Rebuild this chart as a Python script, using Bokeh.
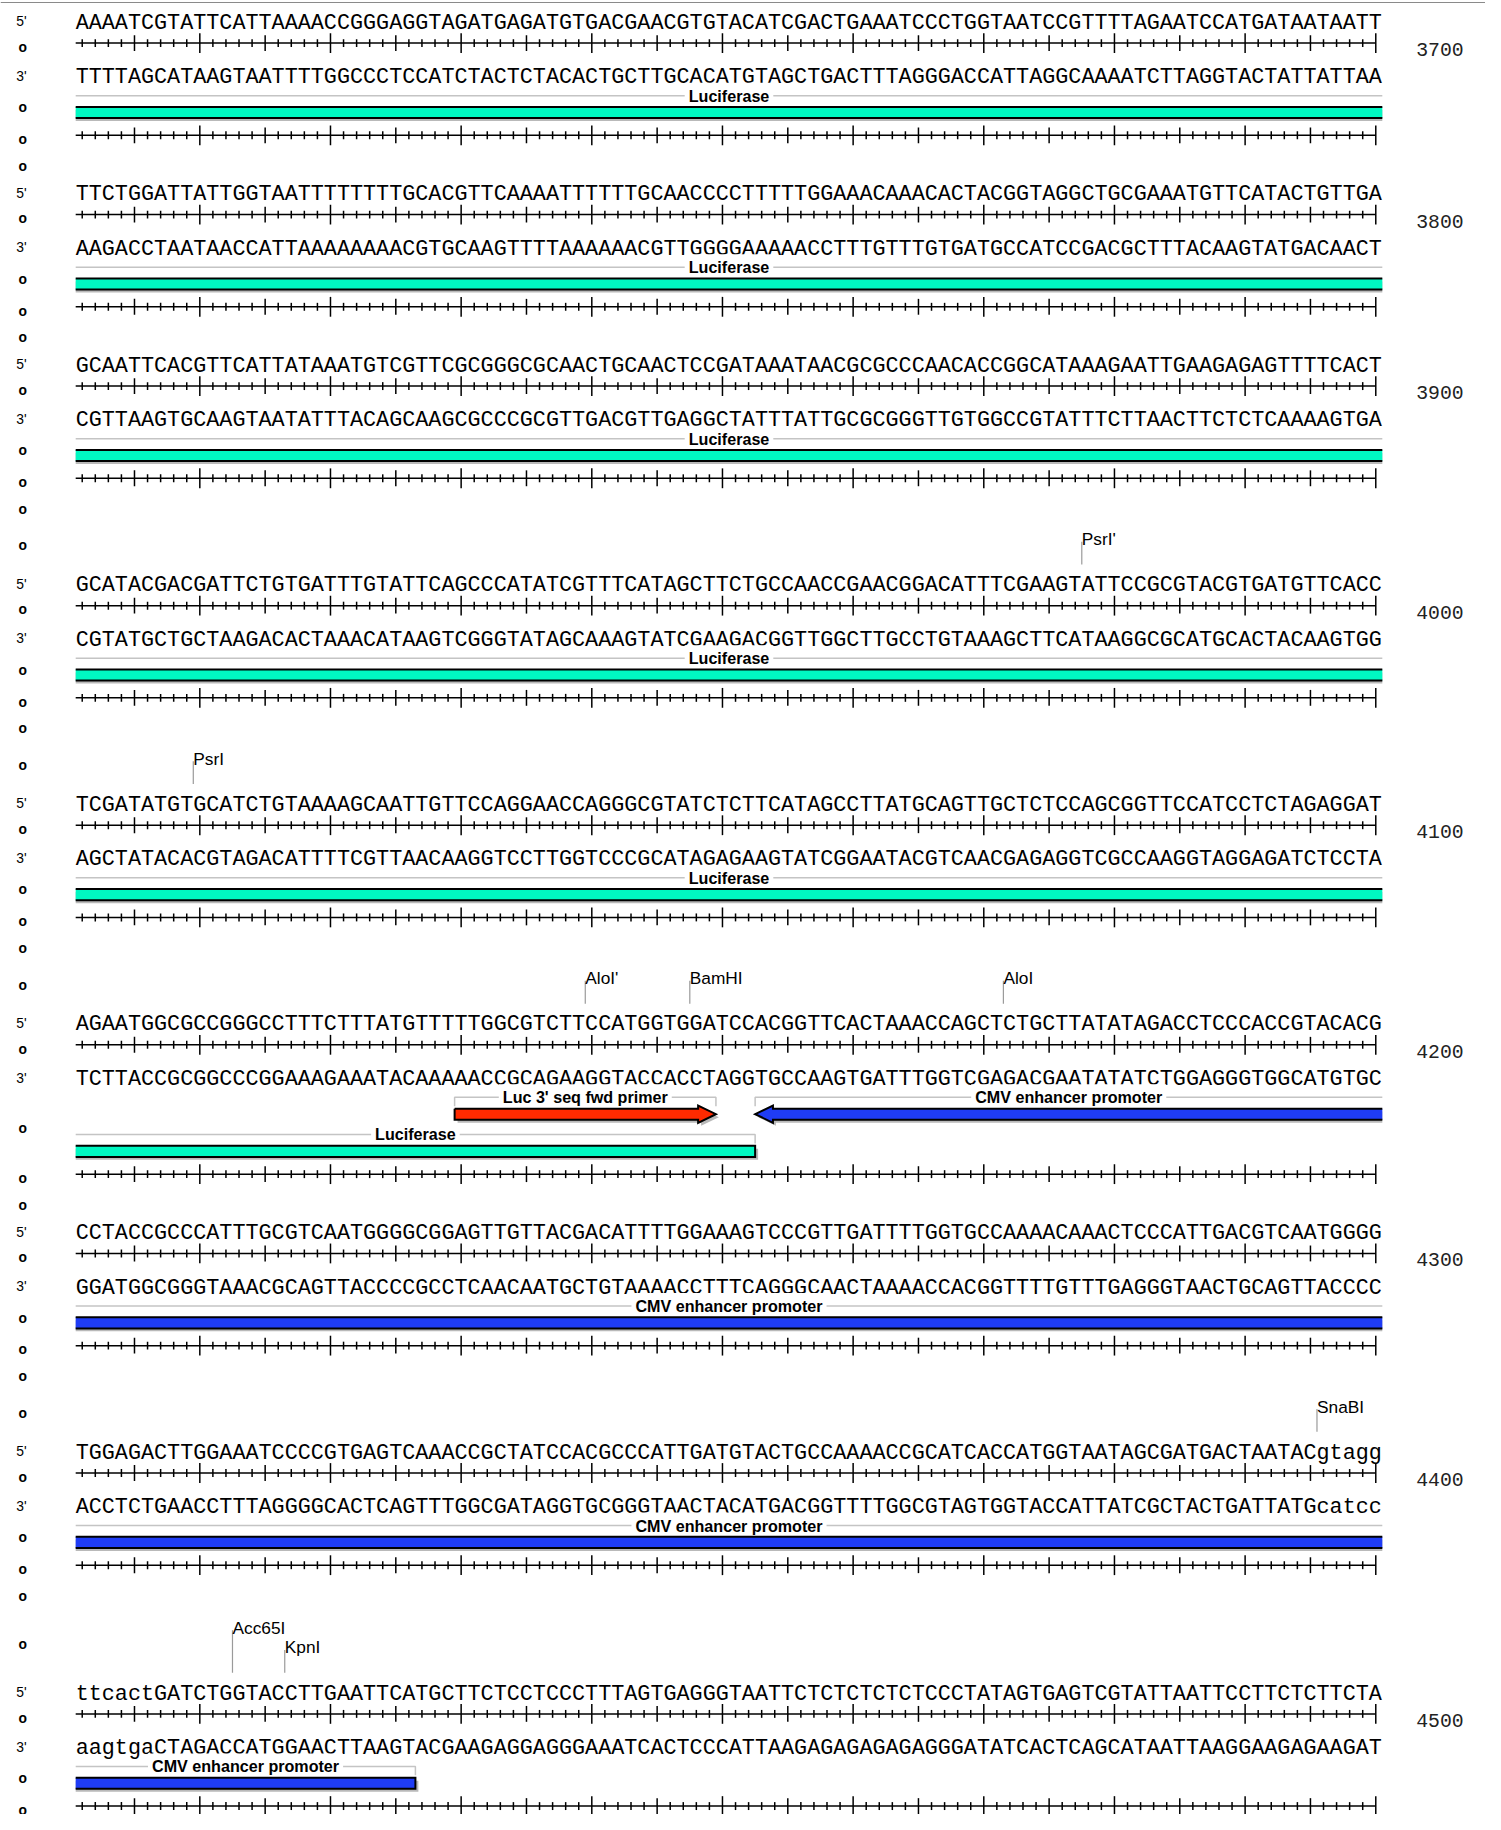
from bokeh.plotting import figure
from bokeh.models import Range1d
from bokeh.embed import file_html
from bokeh.resources import INLINE
from bokeh.core.properties import value

# ---------------- data ----------------
line_start = [3601, 3701, 3801, 3901, 4001, 4101, 4201, 4301, 4401]
top_strand = [
    "AAAATCGTATTCATTAAAACCGGGAGGTAGATGAGATGTGACGAACGTGTACATCGACTGAAATCCCTGGTAATCCGTTTTAGAATCCATGATAATAATT",
    "TTCTGGATTATTGGTAATTTTTTTTGCACGTTCAAAATTTTTTGCAACCCCTTTTTGGAAACAAACACTACGGTAGGCTGCGAAATGTTCATACTGTTGA",
    "GCAATTCACGTTCATTATAAATGTCGTTCGCGGGCGCAACTGCAACTCCGATAAATAACGCGCCCAACACCGGCATAAAGAATTGAAGAGAGTTTTCACT",
    "GCATACGACGATTCTGTGATTTGTATTCAGCCCATATCGTTTCATAGCTTCTGCCAACCGAACGGACATTTCGAAGTATTCCGCGTACGTGATGTTCACC",
    "TCGATATGTGCATCTGTAAAAGCAATTGTTCCAGGAACCAGGGCGTATCTCTTCATAGCCTTATGCAGTTGCTCTCCAGCGGTTCCATCCTCTAGAGGAT",
    "AGAATGGCGCCGGGCCTTTCTTTATGTTTTTGGCGTCTTCCATGGTGGATCCACGGTTCACTAAACCAGCTCTGCTTATATAGACCTCCCACCGTACACG",
    "CCTACCGCCCATTTGCGTCAATGGGGCGGAGTTGTTACGACATTTTGGAAAGTCCCGTTGATTTTGGTGCCAAAACAAACTCCCATTGACGTCAATGGGG",
    "TGGAGACTTGGAAATCCCCGTGAGTCAAACCGCTATCCACGCCCATTGATGTACTGCCAAAACCGCATCACCATGGTAATAGCGATGACTAATACgtagg",
    "ttcactGATCTGGTACCTTGAATTCATGCTTCTCCTCCCTTTAGTGAGGGTAATTCTCTCTCTCTCCCTATAGTGAGTCGTATTAATTCCTTCTCTTCTA",
]
line_end_labels = ["3700", "3800", "3900", "4000", "4100", "4200", "4300", "4400", "4500"]

feat_name = ["Luc 3' seq fwd primer", "CMV enhancer promoter", "Luciferase"]
feat_start = [4130, 4153, 3601]
feat_end = [4149, 4426, 4152]
feat_strand = [1, -1, -1]
feat_cont_left = [False, False, True]   # Luciferase begins before the shown region
feat_color = ["#FF2A00", "#1F3CF5", "#00F8C2"]

enz_name = ["PsrI'", "PsrI", "AloI'", "BamHI", "AloI", "SnaBI", "Acc65I", "KpnI"]
enz_cut = [3977, 4009, 4139, 4147, 4171, 4395, 4412, 4416]   # cut after this base

# ---------------- layout constants (reference pixel units) ----------------
W_REF, H_REF = 1501, 1830
W_FIG, H_FIG = 1485, 1814
S = W_FIG / W_REF          # font scale so that text matches the data units

X0 = 76.0
BW = 13.207
Y_FIRST = 16.0
D_RULER = 27.0
D_BOTTOM = 55.0
D_FLABEL = 80.0
D_FBAR = 97.0
ROW_H = 37.5
D_RULER2 = 120.0
GAP = 53.0
LAB_EXTRA = 48.5
LEV_EXTRA = 21.5
ENZ_FS = 17.5
HH, AH, AL = 5.6, 8.7, 18.0


def fs(px):
    return f"{px * S:.2f}px"


COMP = str.maketrans("ACGTacgt", "TGCAtgca")

seq_x, seq_y, seq_t = [], [], []
side_x, side_y, side_t = [], [], []
o_x, o_y = [], []
rx0, ry0, rx1, ry1 = [], [], [], []
num_x, num_y, num_t = [], [], []
el_x0, el_y0, el_x1, el_y1 = [], [], [], []
en_x, en_y, en_t = [], [], []
br_xs, br_ys = [], []
bl_x, bl_y, bl_t = [], [], []
sh_xs, sh_ys = [], []
fi_xs, fi_ys, fi_c = [], [], []
ol_xs, ol_ys = [], []


def add_ruler(s, y):
    rx0.append(X0); rx1.append(X0 + 99.5 * BW); ry0.append(y); ry1.append(y)
    for i in range(100):
        n = s + i
        x = X0 + (i + 0.5) * BW
        if n % 10 == 0:
            a = 10.0
        elif n % 5 == 0:
            a = 8.0
        else:
            a = 4.0
        rx0.append(x); rx1.append(x); ry0.append(y - a); ry1.append(y + a)


def shape(xl, xr, yc, head_l, head_r):
    top, bot = [], []
    if head_l:
        top += [(xl, yc), (xl + AL, yc - AH), (xl + AL, yc - HH)]
    else:
        top += [(xl, yc - HH)]
    if head_r:
        top += [(xr - AL, yc - HH), (xr - AL, yc - AH), (xr, yc)]
        bot += [(xr - AL, yc + AH), (xr - AL, yc + HH)]
    else:
        top += [(xr, yc - HH)]
        bot += [(xr, yc + HH)]
    if head_l:
        bot += [(xl + AL, yc + HH), (xl + AL, yc + AH)]
    else:
        bot += [(xl, yc + HH)]
    return top, bot


def add_o(y):
    if y < H_REF - 6:
        o_x.append(22.5); o_y.append(y)


prev_r2 = None
for bi, s in enumerate(line_start):
    e = s + 99
    # restriction enzyme labels (stacked right-to-left)
    ens = [(X0 + (c - s + 1) * BW, nm) for nm, c in zip(enz_name, enz_cut) if s <= c <= e]
    ens.sort(key=lambda t: -t[0])
    placed = []
    for x, nm in ens:
        w = len(nm) * 0.55 * ENZ_FS
        lev = 0
        while any(l == lev and not (x + w + 3 < a or x > b + 3) for a, b, l in placed):
            lev += 1
        placed.append((x, x + w, lev))
    nlev = (max(pp[2] for pp in placed) + 1) if placed else 0
    if prev_r2 is None:
        y0 = Y_FIRST
    else:
        y0 = prev_r2 + GAP + ((LAB_EXTRA + LEV_EXTRA * (nlev - 1)) if nlev else 0)

    lab_ys = []
    for (x, x1, lev), (_, nm) in zip(placed, ens):
        ly = y0 - 46 - 20 * lev
        lab_ys.append(ly)
        en_x.append(x); en_y.append(ly + 6); en_t.append(nm)
        el_x0.append(x); el_x1.append(x); el_y0.append(ly + 8.5); el_y1.append(y0 - 14.5)
    if lab_ys:
        add_o(sum(lab_ys) / len(lab_ys) + 8.5)

    # sequences
    seq_x += [X0, X0]
    seq_y += [y0 + 7.0, y0 + D_BOTTOM + 7.0]
    seq_t += [top_strand[bi], top_strand[bi].translate(COMP)]
    side_x += [16, 16]
    side_y += [y0 + 5, y0 + D_BOTTOM + 5]
    side_t += ["5'", "3'"]

    add_ruler(s, y0 + D_RULER)
    add_o(y0 + D_RULER)
    num_x.append(1455); num_y.append(y0 + D_RULER + 6.5); num_t.append(line_end_labels[bi])

    # features, packed into rows
    rows = []
    items = []
    for k in range(len(feat_name)):
        f0, f1 = feat_start[k], feat_end[k]
        if f1 < s or f0 > e:
            continue
        xl = X0 + (max(f0, s) - s) * BW
        xr = X0 + (min(f1, e) - s + 1) * BW
        r = 0
        while r < len(rows) and any(not (xr + 2 < a or xl > b + 2) for a, b in rows[r]):
            r += 1
        if r == len(rows):
            rows.append([])
        rows[r].append((xl, xr))
        true_l = (f0 >= s) and not feat_cont_left[k]
        true_r = f1 <= e
        items.append((k, r, xl, xr, true_l, true_r))
    nrows = max(1, len(rows))

    for k, r, xl, xr, true_l, true_r in items:
        by = y0 + D_FLABEL + ROW_H * r
        yc = y0 + D_FBAR + ROW_H * r
        pts_x = ([xl] if true_l else []) + [xl, xr] + ([xr] if true_r else [])
        pts_y = ([by + 9] if true_l else []) + [by, by] + ([by + 9] if true_r else [])
        br_xs.append(pts_x); br_ys.append(pts_y)
        bl_x.append((xl + xr) / 2); bl_y.append(by); bl_t.append(feat_name[k])
        head_l = true_l and feat_strand[k] < 0
        head_r = true_r and feat_strand[k] > 0
        top, bot = shape(xl, xr, yc, head_l, head_r)
        poly = top + bot
        fi_xs.append([pt[0] for pt in poly]); fi_ys.append([pt[1] for pt in poly]); fi_c.append(feat_color[k])
        sx = []
        for px, py in poly:
            nx = px + 3
            if not true_l and px <= xl + 0.01:
                nx = xl
            if not true_r and px >= xr - 0.01:
                nx = xr
            sx.append(nx)
        sh_xs.append(sx); sh_ys.append([pt[1] + 3 for pt in poly])
        if true_l and true_r:
            path = poly + [poly[0]]
            ol_xs.append([pt[0] for pt in path]); ol_ys.append([pt[1] for pt in path])
        elif true_r:
            ol_xs.append([pt[0] for pt in poly]); ol_ys.append([pt[1] for pt in poly])
        elif true_l:
            path = bot + top
            ol_xs.append([pt[0] for pt in path]); ol_ys.append([pt[1] for pt in path])
        else:
            ol_xs.append([pt[0] for pt in top]); ol_ys.append([pt[1] for pt in top])
            ol_xs.append([pt[0] for pt in bot]); ol_ys.append([pt[1] for pt in bot])

    add_o(y0 + 88 + ROW_H / 2 * (nrows - 1))
    r2 = y0 + D_RULER2 + ROW_H * (nrows - 1)
    add_ruler(s, r2)
    add_o(r2)
    add_o(r2 + 27)
    prev_r2 = r2

# ---------------- figure ----------------
p = figure(width=W_FIG, height=H_FIG, x_range=Range1d(0, W_REF), y_range=Range1d(H_REF, 0),
           output_backend="svg", toolbar_location=None,
           x_axis_location=None, y_axis_location=None, min_border=0)
p.xgrid.grid_line_color = None
p.ygrid.grid_line_color = None
p.outline_line_color = None
p.background_fill_color = "white"
p.border_fill_color = "white"

# top rule
p.segment(x0=[0], y0=[2], x1=[W_REF], y1=[2], line_color="#8a8a8a", line_width=1.2)

# enzyme cut lines and names
p.segment(x0=el_x0, y0=el_y0, x1=el_x1, y1=el_y1, line_color="#9a9a9a", line_width=1.2)
p.text(x=en_x, y=en_y, text=en_t, text_font=value("Liberation Sans"), text_font_size=fs(ENZ_FS),
       text_align="left", text_baseline="alphabetic", text_color="black")

# sequences
p.text(x=seq_x, y=seq_y, text=seq_t, text_font=value("Liberation Mono"), text_font_size=fs(22),
       text_align="left", text_baseline="alphabetic", text_color="black")
p.text(x=side_x, y=side_y, text=side_t, text_font=value("Liberation Sans"), text_font_size=fs(14),
       text_align="left", text_baseline="alphabetic", text_color="black")
p.text(x=o_x, y=[y + 3.8 for y in o_y], text=["o"] * len(o_x), text_font=value("Liberation Sans"),
       text_font_size=fs(14), text_font_style="bold", text_align="center",
       text_baseline="alphabetic", text_color="black")

# rulers
p.segment(x0=rx0, y0=ry0, x1=rx1, y1=ry1, line_color="black", line_width=1.5)
p.text(x=num_x, y=num_y, text=num_t, text_font=value("Liberation Mono"), text_font_size=fs(20),
       text_align="center", text_baseline="alphabetic", text_color="#222222")

# feature brackets and labels
p.multi_line(xs=br_xs, ys=br_ys, line_color="#c4c4c4", line_width=1.5)
p.text(x=bl_x, y=bl_y, text=bl_t, text_font=value("Liberation Sans"), text_font_size=fs(16.3),
       text_font_style="bold", text_align="center", text_baseline="middle", text_color="black",
       background_fill_color="white", padding=4)

# feature bars
p.patches(xs=sh_xs, ys=sh_ys, fill_color="#b9b9b9", line_color=None)
p.patches(xs=fi_xs, ys=fi_ys, fill_color=fi_c, line_color=None)
p.multi_line(xs=ol_xs, ys=ol_ys, line_color="black", line_width=2, line_join="miter")

open("out.html", "w").write(file_html(p, INLINE))
